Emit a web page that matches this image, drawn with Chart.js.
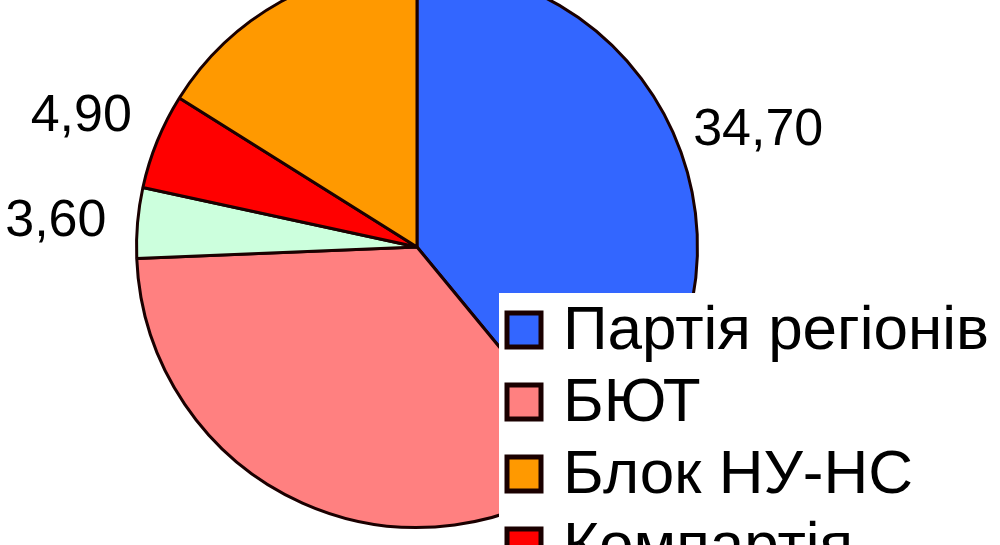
<!DOCTYPE html>
<html>
<head>
<meta charset="utf-8">
<script src="https://cdn.jsdelivr.net/npm/chart.js@4/dist/chart.umd.min.js"></script>
<style>
  html, body { margin: 0; padding: 0; background: #fff; overflow: hidden; }
  #wrap { position: absolute; left: 0; top: -45px; width: 1000px; height: 600px; }
</style>
</head>
<body>
<div id="wrap"><canvas id="pieChart"></canvas></div>
<script>
// legend order
const parties = ["Партія регіонів", "БЮТ", "Блок НУ-НС", "Компартія", "Блок Литвина"];
const percents = [34.70, 31.40, 14.30, 4.90, 3.60];
const valueLabels = ["34,70", "31,40", "14,30", "4,90", "3,60"];
const sliceColors = ["#3366ff", "#ff8080", "#ff9900", "#ff0000", "#ccffdd"];
// order of slices going clockwise from the top
const pieOrder = [0, 1, 4, 3, 2];

const offsetY = 45; // canvas is shifted up by this much
const labelFont = "52px 'Liberation Sans', Arial, sans-serif";
const legendFont = "62px 'Liberation Sans', Arial, sans-serif";

// value labels outside the slices
const valueLabelPlugin = {
    id: "valueLabels",
    afterDatasetsDraw(chart) {
        let ctx = chart.ctx;
        let meta = chart.getDatasetMeta(0);
        ctx.save();
        ctx.font = labelFont;
        ctx.fillStyle = "#000";
        ctx.textAlign = "center";
        ctx.textBaseline = "middle";
        meta.data.forEach(function (arc, i) {
            let mid = (arc.startAngle + arc.endAngle) / 2;
            let dist = arc.outerRadius + 82;
            let x = arc.x + Math.cos(mid) * dist;
            let y = arc.y + Math.sin(mid) * dist + 6;
            ctx.fillText(valueLabels[pieOrder[i]], x, y);
        });
        ctx.restore();
    }
};

// legend box drawn over the pie, like the original
const legendPlugin = {
    id: "overLegend",
    afterDraw(chart) {
        let ctx = chart.ctx;
        let left = 499;
        let top = 293 + offsetY;
        ctx.save();
        ctx.fillStyle = "#fff";
        ctx.fillRect(left, top, 1000 - left, chart.height - top);
        ctx.font = legendFont;
        ctx.textBaseline = "middle";
        for (let i = 0; i < parties.length; i++) {
            let cy = 330 + offsetY + i * 72;
            ctx.fillStyle = sliceColors[i];
            ctx.fillRect(507, cy - 17, 34, 34);
            ctx.lineWidth = 5;
            ctx.strokeStyle = "#1a0000";
            ctx.strokeRect(507, cy - 17, 34, 34);
            ctx.fillStyle = "#000";
            ctx.fillText(parties[i], 563, cy + 2);
        }
        ctx.restore();
    }
};

new Chart(document.getElementById("pieChart"), {
    type: "pie",
    data: {
        labels: pieOrder.map((i) => parties[i]),
        datasets: [{
            data: pieOrder.map((i) => percents[i]),
            backgroundColor: pieOrder.map((i) => sliceColors[i]),
            borderColor: "#1a0000",
            borderWidth: 3
        }]
    },
    options: {
        responsive: true,
        maintainAspectRatio: false,
        animation: false,
        layout: { padding: { left: 135, right: 301, top: 10, bottom: 26 } },
        plugins: {
            legend: { display: false },
            tooltip: { enabled: false }
        }
    },
    plugins: [valueLabelPlugin, legendPlugin]
});
</script>
</body>
</html>
